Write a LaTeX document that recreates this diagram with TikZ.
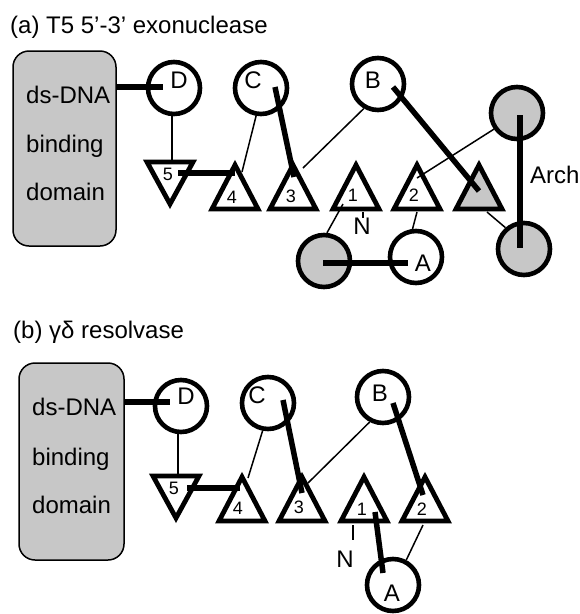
\documentclass[tikz,border=0pt]{standalone}
\usepackage{fontspec}
\setmainfont{Liberation Sans}
\usetikzlibrary{calc}

% upright triangle: name, centre x, base y
\newcommand{\triup}[4][white]{%
  \coordinate (#2) at (#3,#4);
  \draw[tri,fill=#1] (#3-23,#4) -- (#3,#4-44) -- (#3+23,#4) -- cycle;}
% inverted triangle: name, centre x, top y
\newcommand{\tridown}[3]{%
  \coordinate (#1) at (#2,#3);
  \draw[tri,fill=white] (#2-23,#3) -- (#2,#3+42) -- (#2+23,#3) -- cycle;}

\tikzset{
  ring/.style={circle, draw, line width=4.6pt, minimum size=52pt, inner sep=0pt, fill=white},
  greyring/.style={ring, fill=black!22},
  tri/.style={draw, line width=4.8pt, line join=miter},
  bond/.style={line width=5.5pt},
  link/.style={line width=1.5pt},
  domainbox/.style={draw, line width=1.5pt, rounded corners=16pt, fill=black!22},
  lbl/.style={font=\fontsize{24}{24}\selectfont, inner sep=0pt},
  num/.style={font=\fontsize{18}{18}\selectfont, inner sep=0pt},
}

\begin{document}
\begin{tikzpicture}[x=1pt, y=-1pt]
\useasboundingbox (0,0) rectangle (580,614);

% ---------------- (a) T5 5'-3' exonuclease ----------------
\node[lbl, anchor=base west] (titleA) at (10,33) {(a) T5 5’-3’ exonuclease};

\draw[domainbox] (13,51) rectangle (116,246);
\coordinate (boxAe) at (116,87);
\node[lbl, anchor=base west] (dsA) at (26,103) {ds-DNA};
\node[lbl, anchor=base west] (bindA) at (26,152) {binding};
\node[lbl, anchor=base west] (domA) at (26,200) {domain};

\node[ring] (Da) at (174,88) {};
\node[ring] (Ca) at (261,88) {};
\node[ring] (Ba) at (378,84) {};
\node[greyring] (Ua) at (517,113) {};
\node[greyring] (Lb) at (524,249) {};
\node[greyring] (LL) at (324,261) {};
\node[ring] (Aa) at (416,257) {};

\tridown{t5a}{170}{162}
\triup{t4a}{235}{209}
\triup{t3a}{293}{209}
\triup{t1a}{356}{209}
\triup{t2a}{417}{209}
\triup[black!22]{tsa}{479}{209}

% thick connectors
\draw[bond] (boxAe) -- ($(Da)+(-11,-1)$);
\draw[bond] ($(Ca)+(14,-1)$) -- ($(t3a)+(1,-32)$);
\draw[bond] ($(t5a)+(8,11)$) -- ($(t4a)+(0,-36)$);
\draw[bond] ($(Ba)+(15,3)$) -- ($(tsa)+(0,-18)$);
\draw[bond] ($(Ua)+(3,2)$) -- ($(Lb)+(-4,-1)$);
\draw[bond] ($(LL)+(-1,2)$) -- ($(Aa)+(-8,6)$);

% thin connectors
\draw[link] (Da.266) -- (Da.266 |- t5a);
\draw[link] (Ca.260) -- ($(t4a)+(7,-37)$);
\draw[link] (Ba.240) -- ($(t3a)+(10,-41)$);
\draw[link] (Ua.215) -- ($(t2a)+(0,-31)$);
\draw[link] ($(tsa)+(8,3)$) -- (Lb.131);
\draw[link] ($(t1a)+(-13,-5)$) -- (LL.84);
\draw[link] ($(t2a)+(0,3)$) -- (Aa.97);
\draw[link] ($(t1a)+(7,3)$) -- ($(t1a)+(7,9)$);

\node[lbl] (Dla) at (179,80) {D};
\node[lbl] (Cla) at (253,80) {C};
\node[lbl] (Bla) at (373,80) {B};
\node[lbl] (Ala) at (423,263) {A};
\node[num] (n5a) at (168,174) {5};
\node[num] (n4a) at (232,197) {4};
\node[num] (n3a) at (291,196) {3};
\node[num] (n1a) at (353,195) {1};
\node[num] (n2a) at (414,195) {2};
\node[lbl] (Na) at (362,226) {N};
\node[lbl, anchor=base west] (arch) at (530,183) {Arch};

% ---------------- (b) gamma-delta resolvase ----------------
\node[lbl, anchor=base west] (titleB) at (13,338) {(b) γδ resolvase};

\draw[domainbox] (19,363) rectangle (124,560);
\coordinate (boxBe) at (124,402);
\node[lbl, anchor=base west] (dsB) at (32,415) {ds-DNA};
\node[lbl, anchor=base west] (bindB) at (32,465) {binding};
\node[lbl, anchor=base west] (domB) at (32,513) {domain};

\node[ring] (Db) at (181,406) {};
\node[ring] (Cb) at (268,403) {};
\node[ring] (Bb) at (383,397) {};
\node[ring] (Ab) at (393,585) {};

\tridown{t5b}{176}{476}
\triup{t4b}{242}{521}
\triup{t3b}{302}{521}
\triup{t1b}{364}{521}
\triup{t2b}{425}{521}

% thick connectors
\draw[bond] (boxBe) -- ($(Db)+(-11,-4)$);
\draw[bond] ($(t5b)+(11,12)$) -- ($(t4b)+(-2,-33)$);
\draw[bond] ($(Cb)+(15,-3)$) -- ($(t3b)+(0,-28)$);
\draw[bond] ($(Bb)+(10,6)$) -- ($(t2b)+(-2,-26)$);
\draw[bond] ($(t1b)+(11,-9)$) -- ($(Ab)+(-10,-12)$);

% thin connectors
\draw[link] (Db.264) -- (Db.264 |- t5b);
\draw[link] (Cb.259) -- ($(t4b)+(6,-43)$);
\draw[link] (Bb.242) -- ($(t3b)+(6,-38)$);
\draw[link] ($(t2b)+(-2,4)$) -- (Ab.62);
\draw[link] ($(t1b)+(-11,4)$) -- ($(t1b)+(-11,19)$);

\node[lbl] (Dlb) at (186,396) {D};
\node[lbl] (Clb) at (257,395) {C};
\node[lbl] (Blb) at (380,393) {B};
\node[lbl] (Alb) at (392,593) {A};
\node[num] (n5b) at (174,488) {5};
\node[num] (n4b) at (238,508) {4};
\node[num] (n3b) at (299,507) {3};
\node[num] (n1b) at (362,509) {1};
\node[num] (n2b) at (422,509) {2};
\node[lbl] (Nb) at (345,559) {N};
\end{tikzpicture}
\end{document}
